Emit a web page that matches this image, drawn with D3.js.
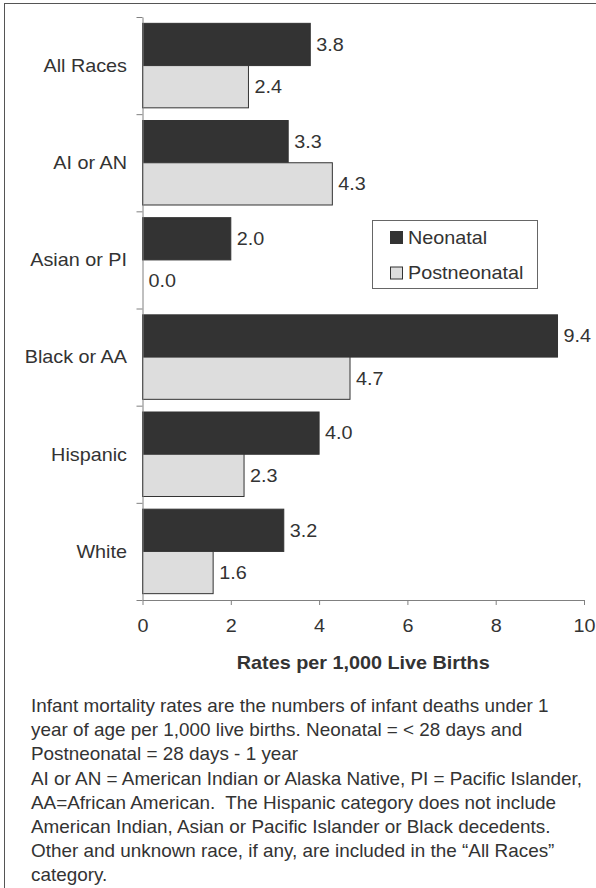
<!DOCTYPE html>
<html>
<head>
<meta charset="utf-8">
<script src="https://cdn.jsdelivr.net/npm/d3@7"></script>
<style>
html,body{margin:0;padding:0;background:#fff;}
svg{display:block;font-family:"Liberation Sans",Arial,sans-serif;}
</style>
</head>
<body>
<svg id="chart" width="596" height="888"></svg>
<script>
const categories = ["All Races","AI or AN","Asian or PI","Black or AA","Hispanic","White"];
const neonatal = [3.8, 3.3, 2.0, 9.4, 4.0, 3.2];
const postneonatal = [2.4, 4.3, 0.0, 4.7, 2.3, 1.6];
const seriesNames = ["Neonatal","Postneonatal"];
const xTicks = [0,2,4,6,8,10];
const axisTitle = "Rates per 1,000 Live Births";
const footnote = [
  "Infant mortality rates are the numbers of infant deaths under 1",
  "year of age per 1,000 live births. Neonatal = < 28 days and",
  "Postneonatal = 28 days - 1 year",
  "AI or AN = American Indian or Alaska Native, PI = Pacific Islander,",
  "AA=African American.  The Hispanic category does not include",
  "American Indian, Asian or Pacific Islander or Black decedents.",
  "Other and unknown race, if any, are included in the \u201cAll Races\u201d",
  "category."
];

const svg = d3.select("#chart");
const colors = {Neonatal:"#333333", Postneonatal:"#dddddd"};
const textColor = "#333333";
const axisColor = "#808080";
const SX = 1.1;      // horizontal stretch of chart text
const SXN = 1.05;    // horizontal stretch of footnote text

// frame
svg.append("rect").attr("x",4.5).attr("y",3.5).attr("width",620).attr("height",920)
  .attr("fill","none").attr("stroke","#555").attr("stroke-width",1);

const plotLeft = 142.5, plotRight = 584, plotTop = 17, plotBottom = 600;
const x = d3.scaleLinear().domain([0,10]).range([plotLeft,plotRight]);
const y = d3.scaleBand().domain(categories).range([plotTop,plotBottom]);
const sub = d3.scaleBand().domain(seriesNames).range([0,y.bandwidth()]).paddingOuter(0.15);
const yIdx = d3.scaleLinear().domain([0,categories.length]).range([plotTop,plotBottom]);

const data = categories.map((c,i)=>({cat:c, values:[
  {s:"Neonatal", v:neonatal[i]}, {s:"Postneonatal", v:postneonatal[i]}]}));

// bars
const g = svg.append("g");
const groups = g.selectAll("g.cat").data(data).join("g")
  .attr("transform", d=>`translate(0,${y(d.cat)})`);
groups.selectAll("rect").data(d=>d.values).join("rect")
  .attr("x", x(0))
  .attr("y", d=>sub(d.s))
  .attr("width", d=>x(d.v)-x(0))
  .attr("height", sub.bandwidth())
  .attr("fill", d=>colors[d.s])
  .attr("stroke", "#333")
  .attr("stroke-width", 1);
groups.selectAll("text").data(d=>d.values).join("text")
  .attr("transform", d=>`translate(${x(d.v)+6},${sub(d.s)+sub.bandwidth()/2}) scale(${SX},1)`)
  .attr("dy","0.35em")
  .attr("font-size",18)
  .attr("fill",textColor)
  .text(d=>d.v.toFixed(1));

// y axis
const yAxis = svg.append("g").attr("transform",`translate(${plotLeft},0)`)
  .call(d3.axisLeft(yIdx).tickValues(d3.range(categories.length+1)).tickFormat("").tickSize(6).tickSizeOuter(0));
yAxis.selectAll("path,line").attr("stroke",axisColor);
svg.append("g").selectAll("text").data(categories).join("text")
  .attr("transform", d=>`translate(127,${y(d)+y.bandwidth()/2}) scale(${SX},1)`)
  .attr("dy","0.35em")
  .attr("text-anchor","end").attr("font-size",18).attr("fill",textColor).text(d=>d);

// x axis
const xAxis = svg.append("g").attr("transform",`translate(0,${plotBottom})`)
  .call(d3.axisBottom(x).tickValues(xTicks).tickSize(5).tickSizeOuter(0).tickPadding(14));
xAxis.select("path").attr("stroke",axisColor);
xAxis.selectAll("line").attr("stroke",axisColor);
xAxis.selectAll("text").attr("font-size",18).attr("fill",textColor)
  .attr("font-family","Liberation Sans, Arial, sans-serif")
  .attr("transform",`scale(${SX},1)`);

svg.append("text").attr("transform",`translate(${(plotLeft+plotRight)/2},669) scale(${SX},1)`)
  .attr("text-anchor","middle")
  .attr("font-size",18).attr("font-weight","bold").attr("fill",textColor).text(axisTitle);

// legend
const lg = svg.append("g");
lg.append("rect").attr("x",372.5).attr("y",220.5).attr("width",165).attr("height",68)
  .attr("fill","#fff").attr("stroke","#666");
seriesNames.forEach((s,i)=>{
  const cy = 237.5 + i*35.5;
  lg.append("rect").attr("x",390.5).attr("y",cy-6).attr("width",12).attr("height",12)
    .attr("fill",colors[s]).attr("stroke","#333");
  lg.append("text").attr("transform",`translate(408,${cy}) scale(${SX},1)`)
    .attr("dy","0.35em").attr("font-size",18)
    .attr("fill",textColor).text(s);
});

// footnote
svg.append("g").selectAll("text").data(footnote).join("text")
  .attr("transform",(d,i)=>`translate(31,${712+i*24.2}) scale(${SXN},1)`)
  .attr("font-size",18).attr("fill",textColor).attr("xml:space","preserve").text(d=>d);
</script>
</body>
</html>
